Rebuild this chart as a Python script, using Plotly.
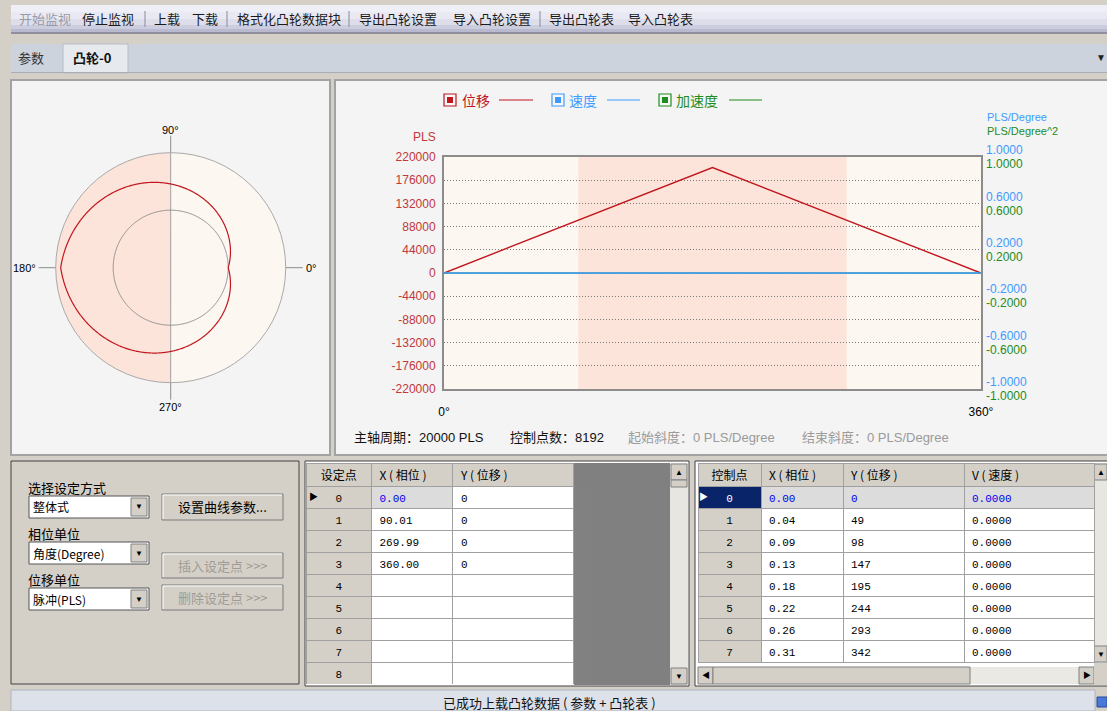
import numpy as np
import plotly.graph_objects as go

W, H = 1107, 711

# ---------------- data ----------------
cam_phase = [0, 180, 360]                 # degree
cam_disp = [0, 200000, 0]                 # PLS
rate_phase = [0, 360]
vel_vals = [0.0, 0.0]                     # PLS/Degree
acc_vals = [0.0, 0.0]                     # PLS/Degree^2

disp_ticks = [-220000, -176000, -132000, -88000, -44000, 0,
              44000, 88000, 132000, 176000, 220000]
rate_ticks = [-1.0, -0.6, -0.2, 0.2, 0.6, 1.0]
phase_ticks = [0, 360]
phase_tick_text = ["0°", "360°"]

set_idx = [0, 1, 2, 3, 4, 5, 6, 7, 8]
set_phase = [0.00, 90.01, 269.99, 360.00]
set_disp = [0, 0, 0, 0]

ctrl_idx = [0, 1, 2, 3, 4, 5, 6, 7]
ctrl_phase = [0.00, 0.04, 0.09, 0.13, 0.18, 0.22, 0.26, 0.31]
ctrl_disp = [0, 49, 98, 147, 195, 244, 293, 342]
ctrl_vel = [0.0, 0.0, 0.0, 0.0, 0.0, 0.0, 0.0, 0.0]

master_period = 20000
ctrl_count = 8192
start_slope = 0
end_slope = 0

polar_tick_labels = ["0°", "90°", "180°", "270°"]
toolbar_labels = ["开始监视", "停止监视", "上载", "下载", "格式化凸轮数据块",
                  "导出凸轮设置", "导入凸轮设置", "导出凸轮表", "导入凸轮表"]
toolbar_enabled = [False, True, True, True, True, True, True, True, True]

# ---------------- styling ----------------
CJK = "Noto Sans CJK SC, sans-serif"
LAT = "Liberation Sans, Noto Sans CJK SC, sans-serif"
MONO = "Liberation Mono, Noto Sans CJK SC, monospace"
RED, BLUE, GREEN = "#c0161e", "#3d9bff", "#1e8c1e"
LABEL_RED = "#c0393b"
WIN = "#d4d0c8"
PINK, CREAM = "#fde4da", "#fcf8f1"

shapes, annotations = [], []


def px(x):
    return x / W


def py(y):
    return 1 - y / H


def rect(x0, y0, x1, y1, fill=None, line=None, lw=1, layer="below"):
    shapes.append(dict(type="rect", xref="paper", yref="paper",
                       x0=px(x0), x1=px(x1), y0=py(y1), y1=py(y0),
                       fillcolor=fill or "rgba(0,0,0,0)",
                       line=dict(color=line or "rgba(0,0,0,0)", width=lw if line else 0),
                       layer=layer))


def hline(x0, x1, y, color, lw=1, layer="above"):
    shapes.append(dict(type="line", xref="paper", yref="paper", x0=px(x0), x1=px(x1),
                       y0=py(y), y1=py(y), line=dict(color=color, width=lw), layer=layer))


def vline(x, y0, y1, color, lw=1, layer="above"):
    shapes.append(dict(type="line", xref="paper", yref="paper", x0=px(x), x1=px(x),
                       y0=py(y0), y1=py(y1), line=dict(color=color, width=lw), layer=layer))


def txt(x, y, s, size=12, color="#000000", anchor="left", family=LAT):
    annotations.append(dict(x=px(x), y=py(y), xref="paper", yref="paper", text=s,
                            showarrow=False, xanchor=anchor, yanchor="middle",
                            borderpad=0, font=dict(size=size, color=color, family=family)))


# ---------------- window chrome ----------------
for (a, b, c) in [(5, 12, "#efeff7"), (12, 19, "#e9e9f3"), (19, 25, "#dedeeb"),
                  (25, 29, "#cdcde0"), (29, 32, "#b9b9d0"), (32, 34, "#8e8e9e")]:
    rect(11, a, W, b, c)
toolbar_x = [18, 81, 153, 191, 236, 358, 452, 548, 627]
for lab, xx, en in zip(toolbar_labels, toolbar_x, toolbar_enabled):
    txt(xx, 19, lab, 13, "#1a1a1a" if en else "#9a9aa6", family=CJK)
for sx in [145, 227, 349, 540]:
    vline(sx, 11, 27, "#8a8a98")

rect(11, 44, W, 72, "#cdd3dc")
hline(11, W, 72.5, "#a9adb5")
rect(63, 44, 128, 73, "#e6e9ee", "#b8bcc4")
txt(31, 57, "参数", 13, "#333333", "center", CJK)
txt(92, 57, "<b>凸轮-0</b>", 13, "#111111", "center", CJK)
txt(1101, 57, "▼", 10, "#222222", "center")

rect(11, 80, 330, 455, "#f4f4f4", "#a3a3a3", 2)
rect(335, 80, W + 2, 455, "#f4f4f4", "#a3a3a3", 2)

# ---------------- cam (polar) ----------------
OUTER_R, BASE_R, AXIS_R, CAM_SPAN = 115, 57.5, 132, 52.5
cx, cy = 170.7, 267.7
theta_dense = np.linspace(0, 360, 721)
disp_dense = np.interp(theta_dense, cam_phase, cam_disp)
cam_r = BASE_R + disp_dense / max(cam_disp) * CAM_SPAN

rise_mid = (set_phase[1] + set_phase[2]) / 2
rise_w = set_phase[2] - set_phase[1]

traces = []
traces.append(go.Barpolar(r=[OUTER_R, OUTER_R], theta=[rise_mid, (rise_mid + 180) % 360],
                          width=[rise_w, 360 - rise_w], subplot="polar",
                          marker=dict(color=[PINK, CREAM], line=dict(color="#a9a9a9", width=1)),
                          hoverinfo="skip", showlegend=False))
traces.append(go.Scatterpolar(r=[BASE_R] * len(theta_dense), theta=theta_dense, mode="lines",
                              line=dict(color="#8a8a8a", width=1), subplot="polar",
                              hoverinfo="skip", showlegend=False))
traces.append(go.Scatterpolar(r=cam_r, theta=theta_dense, mode="lines",
                              line=dict(color=RED, width=1.2), subplot="polar",
                              hoverinfo="skip", showlegend=False))

txt(cx, 129.5, polar_tick_labels[1], 11, "#000", "center")
txt(cx, 406.5, polar_tick_labels[3], 11, "#000", "center")
txt(37, 268, polar_tick_labels[2], 11, "#000", "right")
txt(305, 268, polar_tick_labels[0], 11, "#000", "left")

# ---------------- main line chart ----------------
PL, PR, PT, PB = 444, 981, 157, 389
shapes.append(dict(type="rect", xref="x", yref="y", x0=0, x1=360,
                   y0=disp_ticks[0], y1=disp_ticks[-1], fillcolor=CREAM,
                   line=dict(width=0), layer="below"))
shapes.append(dict(type="rect", xref="x", yref="y", x0=set_phase[1], x1=set_phase[2],
                   y0=disp_ticks[0], y1=disp_ticks[-1], fillcolor=PINK,
                   line=dict(width=0), layer="below"))

traces.append(go.Scatter(x=rate_phase, y=acc_vals, yaxis="y2", mode="lines",
                         line=dict(color=GREEN, width=1.2), showlegend=False))
traces.append(go.Scatter(x=rate_phase, y=vel_vals, yaxis="y3", mode="lines",
                         line=dict(color=BLUE, width=1.4), showlegend=False))
traces.append(go.Scatter(x=cam_phase, y=cam_disp, mode="lines",
                         line=dict(color=RED, width=1.4), showlegend=False))

txt(437, 137, "PLS", 12, LABEL_RED, "right")
txt(986, 117, "PLS/Degree", 11, BLUE, "left")
txt(986, 131, "PLS/Degree^2", 11, GREEN, "left")

for (x0, name, col, tx, lx0, lx1) in [(444, "位移", RED, 461, 499, 533),
                                      (552, "速度", BLUE, 568, 607, 640),
                                      (659, "加速度", GREEN, 675, 729, 762)]:
    rect(x0, 94, x0 + 12, 106, "#f7f7f7", col, 1.2, "above")
    rect(x0 + 3, 97, x0 + 9, 103, col, None, 1, "above")
    txt(tx, 100, name, 14, col, "left", CJK)
    hline(lx0, lx1, 100, col, 1.2)

txt(353, 437, f"主轴周期：{master_period} PLS", 13, "#111111", "left", LAT)
txt(509, 437, f"控制点数：{ctrl_count}", 13, "#111111", "left", LAT)
txt(627, 437, f"起始斜度：{start_slope} PLS/Degree", 13, "#9a9a9a", "left", LAT)
txt(801, 437, f"结束斜度：{end_slope} PLS/Degree", 13, "#9a9a9a", "left", LAT)

# ---------------- bottom: controls ----------------
rect(11, 461, 299, 684, WIN, "#404040", 1)
for lab, yy in [("选择设定方式", 487), ("相位单位", 533), ("位移单位", 579)]:
    txt(27, yy, lab, 13, "#000", "left", CJK)
for (y0, y1, lab) in [(496, 518, "整体式"), (542, 564, "角度(Degree)"), (588, 610, "脉冲(PLS)")]:
    rect(29, y0, 149, y1, "#ffffff", "#555555", 1)
    rect(131, y0 + 2, 147, y1 - 2, WIN, "#808080", 1)
    txt(139, (y0 + y1) / 2, "▼", 8, "#000", "center")
    txt(32, (y0 + y1) / 2, lab, 12, "#000", "left", CJK)
for (y0, y1, lab, en) in [(494, 520, "设置曲线参数...", True),
                          (553, 578, "插入设定点 >>>", False),
                          (585, 610, "删除设定点 >>>", False)]:
    rect(162, y0, 283, y1, WIN, "#7a7a7a", 1)
    hline(163, 282, y0 + 1, "#ffffff", 1)
    vline(163, y0 + 1, y1 - 1, "#ffffff", 1)
    txt(222.5, (y0 + y1) / 2, lab, 13, "#000" if en else "#a09c94", "center", CJK)

# ---------------- bottom: set-point table ----------------
rect(305, 461, 689, 686, "#ffffff", "#404040", 1)
rect(574, 463, 670, 685, "#808080")
rect(670, 463, 688, 685, "#e8e6e0")
rect(671, 464, 687, 480, WIN, "#808080")
rect(671, 480, 687, 487, WIN, "#808080")
rect(671, 668, 687, 684, WIN, "#808080")
txt(679, 472, "▲", 8, "#000", "center")
txt(679, 676, "▼", 8, "#000", "center")

n_set = len(set_idx)
set_x_txt = [f"{v:.2f}" for v in set_phase] + [""] * (n_set - len(set_phase))
set_y_txt = [f"{v}" for v in set_disp] + [""] * (n_set - len(set_disp))
traces.append(go.Table(
    domain=dict(x=[px(306), px(574)], y=[py(685), py(463)]),
    columnwidth=[66, 82, 121],
    header=dict(values=["设定点", "X ( 相位 )", "Y ( 位移 )"], height=23,
                fill_color=WIN, line=dict(color="#a0a0a0", width=1),
                align=["center", "left", "left"],
                font=dict(family=CJK, size=12, color="#000")),
    cells=dict(values=[[str(i) for i in set_idx], set_x_txt, set_y_txt], height=22,
               fill_color=[[WIN] * n_set, ["#dcdcdc"] + ["#ffffff"] * (n_set - 1),
                           ["#ffffff"] * n_set],
               line=dict(color="#a0a0a0", width=1),
               align=["center", "left", "left"],
               font=dict(family=MONO, size=11,
                         color=[["#000"] * n_set, ["#0000ee"] + ["#000"] * (n_set - 1),
                                ["#000"] * n_set]))))
txt(313, 497, "▶", 9, "#000", "center")

# ---------------- bottom: control-point table ----------------
rect(695, 461, W + 2, 686, "#ffffff", "#404040", 1)
n_ctrl = len(ctrl_idx)
traces.append(go.Table(
    domain=dict(x=[px(698), px(1094)], y=[py(663), py(463)]),
    columnwidth=[63, 82, 121, 130],
    header=dict(values=["控制点", "X ( 相位 )", "Y ( 位移 )", "V ( 速度 )"], height=23,
                fill_color=WIN, line=dict(color="#a0a0a0", width=1),
                align=["center", "left", "left", "left"],
                font=dict(family=CJK, size=12, color="#000")),
    cells=dict(values=[[str(i) for i in ctrl_idx], [f"{v:.2f}" for v in ctrl_phase],
                       [f"{v}" for v in ctrl_disp], [f"{v:.4f}" for v in ctrl_vel]],
               height=22,
               fill_color=[["#0a246a"] + [WIN] * (n_ctrl - 1)] +
                          [["#dcdcdc"] + ["#ffffff"] * (n_ctrl - 1)] * 3,
               line=dict(color="#a0a0a0", width=1),
               align=["center", "left", "left", "left"],
               font=dict(family=MONO, size=11,
                         color=[["#ffffff"] + ["#000"] * (n_ctrl - 1)] +
                               [["#0000ee"] + ["#000"] * (n_ctrl - 1)] * 3))))
txt(703, 497, "▶", 9, "#ffffff", "center")
rect(1094, 463, W, 663, "#e8e6e0")
rect(1094, 464, W, 480, WIN, "#808080")
rect(1094, 646, W, 662, WIN, "#808080")
txt(1100.5, 472, "▲", 8, "#000", "center")
txt(1100.5, 654, "▼", 8, "#000", "center")
rect(698, 667, 1094, 684, "#ebe9e3")
rect(698, 667, 713, 684, WIN, "#808080")
rect(713, 667, 970, 684, WIN, "#808080")
rect(1079, 667, 1094, 684, WIN, "#808080")
rect(1094, 663, W, 685, WIN)
txt(705.5, 675.5, "◀", 8, "#000", "center")
txt(1086.5, 675.5, "▶", 8, "#000", "center")

rect(11, 690, 1095, 711, "#dde1ea", "#b0b4c0", 1)
txt(549, 702, "已成功上载凸轮数据 ( 参数 + 凸轮表 )", 13, "#111111", "center", CJK)
rect(1097, 697, W, 707, "#4a78d8", "#2a4a9a")

# ---------------- figure ----------------
fig = go.Figure(data=traces)
axis_line = dict(showline=True, mirror=True, linecolor="#8c8c8c", linewidth=2,
                 zeroline=False, automargin=False)
rate_axis = dict(overlaying="y", side="right", anchor="x", range=[-1, 1],
                 tickvals=rate_ticks, ticktext=[f"{v:.4f}" for v in rate_ticks], ticks="",
                 showgrid=False, zeroline=False, showline=False, automargin=False,
                 ticklabelstandoff=4)
fig.update_layout(
    width=W, height=H, margin=dict(l=0, r=0, t=0, b=0, autoexpand=False),
    paper_bgcolor=WIN, plot_bgcolor="rgba(0,0,0,0)",
    showlegend=False, shapes=shapes, annotations=annotations,
    font=dict(family=LAT, size=12),
    xaxis=dict(domain=[px(PL), px(PR)], range=[0, 360], tickvals=phase_ticks,
               ticktext=phase_tick_text, ticks="", showgrid=False, anchor="y",
               tickfont=dict(size=12, color="#000"), ticklabelstandoff=11, **axis_line),
    yaxis=dict(domain=[py(PB), py(PT)], range=[disp_ticks[0], disp_ticks[-1]],
               tickvals=disp_ticks, ticktext=[str(v) for v in disp_ticks], ticks="",
               tickfont=dict(size=12, color=LABEL_RED), showgrid=True, griddash="1px,2px",
               gridcolor="#7a7a7a", gridwidth=1, anchor="x", ticklabelstandoff=4, **axis_line),
    yaxis2=dict(tickfont=dict(size=12, color=GREEN), ticklabelshift=7, **rate_axis),
    yaxis3=dict(tickfont=dict(size=12, color=BLUE), ticklabelshift=-7, **rate_axis),
    polar=dict(domain=dict(x=[px(cx - AXIS_R), px(cx + AXIS_R)],
                           y=[py(cy + AXIS_R), py(cy - AXIS_R)]),
               bgcolor="rgba(0,0,0,0)", bargap=0,
               radialaxis=dict(range=[0, AXIS_R], visible=False),
               angularaxis=dict(tickvals=[0, 90, 180, 270], showticklabels=False, ticks="",
                                showgrid=True, gridcolor="#8c8c8c", gridwidth=1,
                                showline=False, layer="above traces", direction="counterclockwise",
                                rotation=0)),
)
fig.write_html("out.html", config={"displayModeBar": False},
               post_script="document.body.style.margin='0';document.body.style.overflow='hidden';")
